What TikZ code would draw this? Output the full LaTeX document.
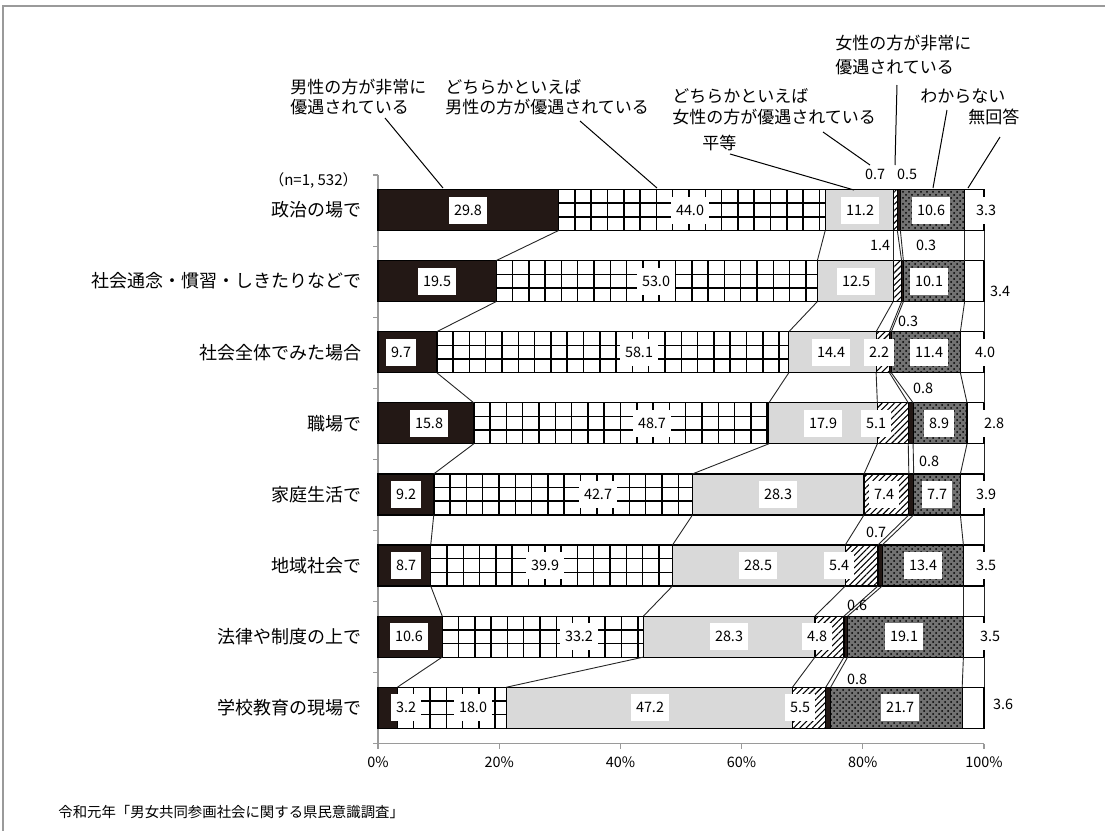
\documentclass[tikz,border=0pt]{standalone}
\usepackage{fontspec}
\setmainfont{Noto Sans CJK JP}
\usetikzlibrary{patterns,patterns.meta}

\definecolor{barblack}{HTML}{231815}
\definecolor{eqgray}{HTML}{D9D9D9}
\definecolor{dkgray}{HTML}{727272}
\definecolor{axisgray}{HTML}{9A9A9A}

\tikzset{
  seg/.style={draw=black,line width=0.6pt},
  gridline/.style={black,line width=0.75pt},
  val/.style={fill=white,inner xsep=2.5pt,inner ysep=0pt,minimum height=13.5pt,font=\fontsize{7.2}{8}\selectfont},
  small/.style={inner sep=0pt,font=\fontsize{7.2}{8}\selectfont},
  cat/.style={anchor=east,inner sep=0pt,font=\fontsize{9}{10}\selectfont},
  hdr/.style={anchor=north west,align=left,inner sep=0pt,font=\fontsize{8.5}{10}\selectfont},
  lead/.style={black,line width=0.5pt},
  link/.style={black!85,line width=0.45pt}
}

\begin{document}
\begin{tikzpicture}[x=0.5pt,y=-0.5pt]
\useasboundingbox (0,0) rectangle (1105,831);
% frame
\draw[axisgray,line width=1pt] (3,831) -- (3,6) -- (1105,6);

% axes
\draw[axisgray,line width=0.6pt] (378,175) -- (378,743.8) -- (984,743.8);
\foreach \k in {0,...,8}
  \draw[axisgray,line width=0.6pt] (373,{175+71.1*\k}) -- (378,{175+71.1*\k});
\foreach \p in {0,20,...,100} {
  \draw[axisgray,line width=0.6pt] ({378+6.06*\p},743.8) -- ({378+6.06*\p},748.8);
  \node[small] (ax\p) at ({378+6.06*\p},762) {\p\%};
}

% bars
\foreach \i/\pa/\pb/\pc/\pd/\pe/\pf in {
  1/29.8/73.8/85.0/85.7/86.2/96.8,
  2/19.5/72.5/85.0/86.4/86.7/96.8,
  3/9.7/67.8/82.2/84.4/84.7/96.1,
  4/15.8/64.5/82.4/87.5/88.3/97.2,
  5/9.2/51.9/80.2/87.6/88.4/96.1,
  6/8.7/48.6/77.1/82.5/83.2/96.6,
  7/10.6/43.8/72.1/76.9/77.5/96.6,
  8/3.2/21.2/68.4/73.9/74.7/96.4} {
  \pgfmathsetmacro\yt{189.5+71.1*(\i-1)}
  \pgfmathsetmacro\yb{\yt+41}
  \pgfmathsetmacro\xa{378+6.06*\pa}
  \pgfmathsetmacro\xb{378+6.06*\pb}
  \pgfmathsetmacro\xc{378+6.06*\pc}
  \pgfmathsetmacro\xd{378+6.06*\pd}
  \pgfmathsetmacro\xe{378+6.06*\pe}
  \pgfmathsetmacro\xf{378+6.06*\pf}
  % male, strongly
  \filldraw[seg,fill=barblack] (378,\yt) rectangle (\xa,\yb);
  % male, somewhat (grid)
  \begin{scope}
    \clip (\xa,\yt) rectangle (\xb,\yb);
    \foreach \g in {0,...,40}
      \draw[gridline] ({\xa+16.3*\g},\yt) -- ({\xa+16.3*\g},\yb);
    \draw[gridline] (\xa,{\yt+13.7}) -- (\xb,{\yt+13.7});
    \draw[gridline] (\xa,{\yt+27.3}) -- (\xb,{\yt+27.3});
  \end{scope}
  \draw[seg] (\xa,\yt) rectangle (\xb,\yb);
  % equal
  \filldraw[seg,fill=eqgray] (\xb,\yt) rectangle (\xc,\yb);
  % female, somewhat
  \fill[pattern={Lines[angle=45,distance=2.2pt,line width=0.55pt]}] (\xc,\yt) rectangle (\xd,\yb);
  \draw[seg] (\xc,\yt) rectangle (\xd,\yb);
  % female, strongly
  \filldraw[seg,fill=barblack] (\xd,\yt) rectangle (\xe,\yb);
  % don't know
  \filldraw[seg,fill=dkgray] (\xe,\yt) rectangle (\xf,\yb);
  \fill[pattern=crosshatch dots] (\xe,\yt) rectangle (\xf,\yb);
  % no answer
  \draw[seg] (\xf,\yt) rectangle (984,\yb);
  \foreach \k/\x in {1/\xa,2/\xb,3/\xc,4/\xd,5/\xe,6/\xf,7/984} {
    \coordinate (top\i-\k) at (\x,\yt);
    \coordinate (bot\i-\k) at (\x,\yb);
  }
}

% series lines between bars
\foreach \i in {1,...,7} {
  \pgfmathtruncatemacro\j{\i+1}
  \foreach \k in {1,...,7}
    \draw[link] (bot\i-\k) -- (top\j-\k);
}

% values in bars
\foreach \i/\x/\dy/\v [count=\n] in {
  1/468/0/29.8, 1/690/0/44.0, 1/860/0/11.2, 1/931/0/10.6, 1/986/0/3.3,
  2/437/0/19.5, 2/656/0/53.0, 2/856/0/12.5, 2/929/0/10.1, 2/1000/10/3.4,
  3/401/0/9.7, 3/639/0/58.1, 3/831/0/14.4, 3/879/0/2.2, 3/929/0/11.4, 3/985/0/4.0,
  4/429/0/15.8, 4/652/0/48.7, 4/823/0/17.9, 4/876/0/5.1, 4/939/0/8.9, 4/994/0/2.8,
  5/406/0/9.2, 5/598/0/42.7, 5/778/0/28.3, 5/884/0/7.4, 5/937/0/7.7, 5/986/0/3.9,
  6/406/0/8.7, 6/545/0/39.9, 6/758/0/28.5, 6/839/0/5.4, 6/923/0/13.4, 6/986/0/3.5,
  7/409/0/10.6, 7/579/0/33.2, 7/729/0/28.3, 7/817/0/4.8, 7/904/0/19.1, 7/990/0/3.5,
  8/406/0/3.2, 8/473/0/18.0, 8/650/0/47.2, 8/800/0/5.5, 8/900/0/21.7, 8/1003/-3/3.6}
  \node[val] (val\n) at (\x,{210+71.1*(\i-1)+\dy}) {\v};

% small values between bars
\foreach \x/\y/\v [count=\n] in {875/174/0.7, 907/174/0.5, 880/245/1.4, 926/245/0.3,
  908/321/0.3, 923/388/0.8, 929/461/0.8, 876/532/0.7, 857/605/0.6, 857/679/0.8}
  \node[small] (sm\n) at (\x,\y) {\v};

% categories
\foreach \i/\t in {1/政治の場で, 2/社会通念・慣習・しきたりなどで, 3/社会全体でみた場合,
  4/職場で, 5/家庭生活で, 6/地域社会で, 7/法律や制度の上で, 8/学校教育の現場で}
  \node[cat] (cat\i) at (362,{210+71.1*(\i-1)}) {\t};
\node[anchor=east,inner sep=0pt,font=\fontsize{7.5}{8}\selectfont] (nlab) at (358,181) {（n=1, 532）};

% legend labels
\node[hdr] (hdrA) at (290,78.5) {男性の方が非常に\\優遇されている};
\node[hdr] (hdrB) at (445,79.5) {どちらかといえば\\男性の方が優遇されている};
\node[hdr,font=\fontsize{8.5}{10.5}\selectfont] (hdrC) at (672,88.5) {どちらかといえば\\女性の方が優遇されている};
\node[hdr,font=\fontsize{8.5}{12}\selectfont] (hdrD) at (835,34.5) {女性の方が非常に\\優遇されている};
\node[hdr] (hdrE) at (702,134.5) {平等};
\node[hdr] (hdrF) at (920,88.5) {わからない};
\node[hdr] (hdrG) at (968,108.5) {無回答};

% leaders
\foreach \n/\x/\y/\u/\w in {A/385/118/443/188, B/580/121/657/188, C/823/132/870/165,
  D/897/85/895/165, E/730/154/854/190, F/947/110/933/188, G/1000/137/968/188} {
  \coordinate (ld\n1) at (\x,\y);
  \coordinate (ld\n2) at (\u,\w);
  \draw[lead] (ld\n1) -- (ld\n2);
}

% source
\node[anchor=west,inner sep=0pt,font=\fontsize{7.2}{8}\selectfont] (src) at (58,812) {令和元年「男女共同参画社会に関する県民意識調査」};
\end{tikzpicture}
\end{document}
